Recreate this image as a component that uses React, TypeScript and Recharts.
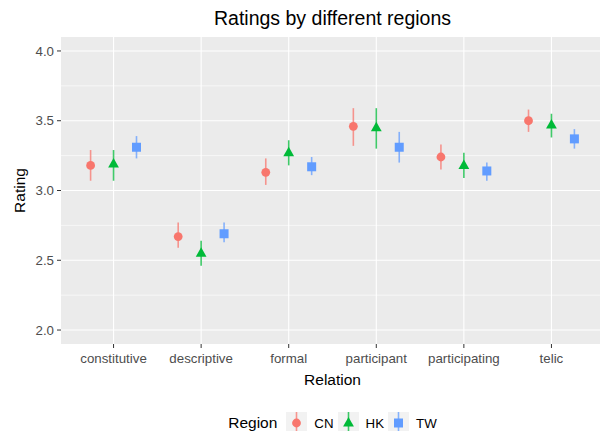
import React from 'react';
import { ComposedChart, Scatter, ErrorBar, XAxis, YAxis, CartesianGrid, Label } from 'recharts';

// Relations on the x axis and the three regions
const relations = ['constitutive', 'descriptive', 'formal', 'participant', 'participating', 'telic'];
const regions = ['CN', 'HK', 'TW'];
const colors = ['#F8766D', '#00BA38', '#619CFF'];

// Mean ratings and interval ends per region
const cnMean = [3.18, 2.67, 3.13, 3.46, 3.24, 3.5];
const cnLow = [3.07, 2.59, 3.04, 3.32, 3.15, 3.42];
const cnHigh = [3.29, 2.77, 3.23, 3.59, 3.33, 3.58];

const hkMean = [3.19, 2.55, 3.27, 3.45, 3.18, 3.47];
const hkLow = [3.07, 2.46, 3.18, 3.3, 3.09, 3.38];
const hkHigh = [3.29, 2.64, 3.36, 3.59, 3.27, 3.55];

const twMean = [3.31, 2.69, 3.17, 3.31, 3.14, 3.37];
const twLow = [3.23, 2.63, 3.11, 3.2, 3.07, 3.3];
const twHigh = [3.39, 2.77, 3.24, 3.42, 3.2, 3.44];

const yTicks = [2.0, 2.5, 3.0, 3.5, 4.0];
const yMinor = [2.25, 2.75, 3.25, 3.75];

// dodge offsets, in category units
const dodge = [-0.262, 0, 0.262];

const build = (mean: number[], low: number[], high: number[], k: number) =>
  relations.map((r, i) => ({
    x: i + 1 + dodge[k],
    y: mean[i],
    err: [mean[i] - low[i], high[i] - mean[i]],
  }));

const series = [
  build(cnMean, cnLow, cnHigh, 0),
  build(hkMean, hkLow, hkHigh, 1),
  build(twMean, twLow, twHigh, 2),
];

const drawShape = (k: number, cx: number, cy: number) => {
  if (k === 0) return <circle cx={cx} cy={cy} r={4.4} fill={colors[0]} />;
  if (k === 1)
    return (
      <polygon
        points={`${cx},${cy - 6} ${cx - 5.4},${cy + 3.5} ${cx + 5.4},${cy + 3.5}`}
        fill={colors[1]}
      />
    );
  return <rect x={cx - 4.5} y={cy - 4.5} width={9} height={9} fill={colors[2]} />;
};

const textFont = 'Arial, "Liberation Sans", sans-serif';

const App: React.FC = () => {
  return (
    <div
      style={{
        position: 'absolute',
        top: 0,
        left: 0,
        width: 600,
        height: 431,
        overflow: 'hidden',
        background: '#fff',
        fontFamily: textFont,
      }}
    >
      <div
        style={{
          position: 'absolute',
          top: 8,
          left: 61,
          width: 543,
          textAlign: 'center',
          fontSize: 19.5,
          lineHeight: '20px',
          color: '#000',
        }}
      >
        Ratings by different regions
      </div>

      <ComposedChart
        width={604}
        height={431}
        margin={{ top: 37, right: 0, bottom: 42, left: 0 }}
        style={{ fontFamily: textFont }}
      >
        <CartesianGrid
          fill="#EBEBEB"
          fillOpacity={1}
          stroke="#FFFFFF"
          strokeWidth={0.6}
          vertical={false}
          horizontalValues={yMinor}
        />
        <CartesianGrid
          stroke="#FFFFFF"
          strokeWidth={1.1}
          horizontalValues={yTicks}
          verticalValues={[1, 2, 3, 4, 5, 6]}
        />
        <XAxis
          type="number"
          dataKey="x"
          domain={[0.4, 6.6]}
          ticks={[1, 2, 3, 4, 5, 6]}
          tickFormatter={(v: number) => relations[Math.round(v) - 1]}
          allowDataOverflow
          height={45}
          axisLine={false}
          tickSize={4}
          tickMargin={6}
          tickLine={{ stroke: '#333333' }}
          tick={{ fill: '#4D4D4D', fontSize: 13.3 }}
          interval={0}
        >
          <Label
            content={({ viewBox }: any) => (
              <text
                x={viewBox.x + viewBox.width / 2}
                y={385}
                textAnchor="middle"
                fontSize={15.5}
                fill="#000"
              >
                Relation
              </text>
            )}
          />
        </XAxis>
        <YAxis
          type="number"
          dataKey="y"
          domain={[1.9, 4.1]}
          ticks={yTicks}
          tickFormatter={(v: number) => v.toFixed(1)}
          allowDataOverflow
          width={61}
          axisLine={false}
          tickSize={4}
          tickMargin={3}
          tickLine={{ stroke: '#333333' }}
          tick={{ fill: '#4D4D4D', fontSize: 13.3 }}
        >
          <Label
            content={({ viewBox }: any) => {
              const cy = viewBox.y + viewBox.height / 2;
              return (
                <text
                  x={25}
                  y={cy}
                  textAnchor="middle"
                  fontSize={15.5}
                  fill="#000"
                  transform={`rotate(-90, 25, ${cy})`}
                >
                  Rating
                </text>
              );
            }}
          />
        </YAxis>
        {series.map((d, k) => (
          <Scatter
            key={regions[k]}
            name={regions[k]}
            data={d}
            isAnimationActive={false}
            shape={(p: any) => drawShape(k, p.cx, p.cy)}
          >
            <ErrorBar
              dataKey="err"
              direction="y"
              width={0}
              stroke={colors[k]}
              strokeOpacity={0.75}
              strokeWidth={1.6}
            />
          </Scatter>
        ))}
      </ComposedChart>

      <div
        style={{
          position: 'absolute',
          top: 412,
          left: 61,
          width: 543,
          height: 22,
          display: 'flex',
          justifyContent: 'center',
          alignItems: 'center',
        }}
      >
        <span style={{ fontSize: 15.5, color: '#000', marginRight: 9 }}>Region</span>
        {regions.map((r, k) => (
          <React.Fragment key={r}>
            <svg width={21} height={22} style={{ background: '#F2F2F2', display: 'block' }}>
              <line
                x1={10.5}
                x2={10.5}
                y1={0}
                y2={22}
                stroke={colors[k]}
                strokeOpacity={0.75}
                strokeWidth={1.6}
              />
              {drawShape(k, 10.5, 11)}
            </svg>
            <span
              style={{
                fontSize: 13.3,
                color: '#000',
                marginLeft: 7,
                marginRight: k < regions.length - 1 ? 4 : 0,
              }}
            >
              {r}
            </span>
          </React.Fragment>
        ))}
      </div>
    </div>
  );
};

export default App;
